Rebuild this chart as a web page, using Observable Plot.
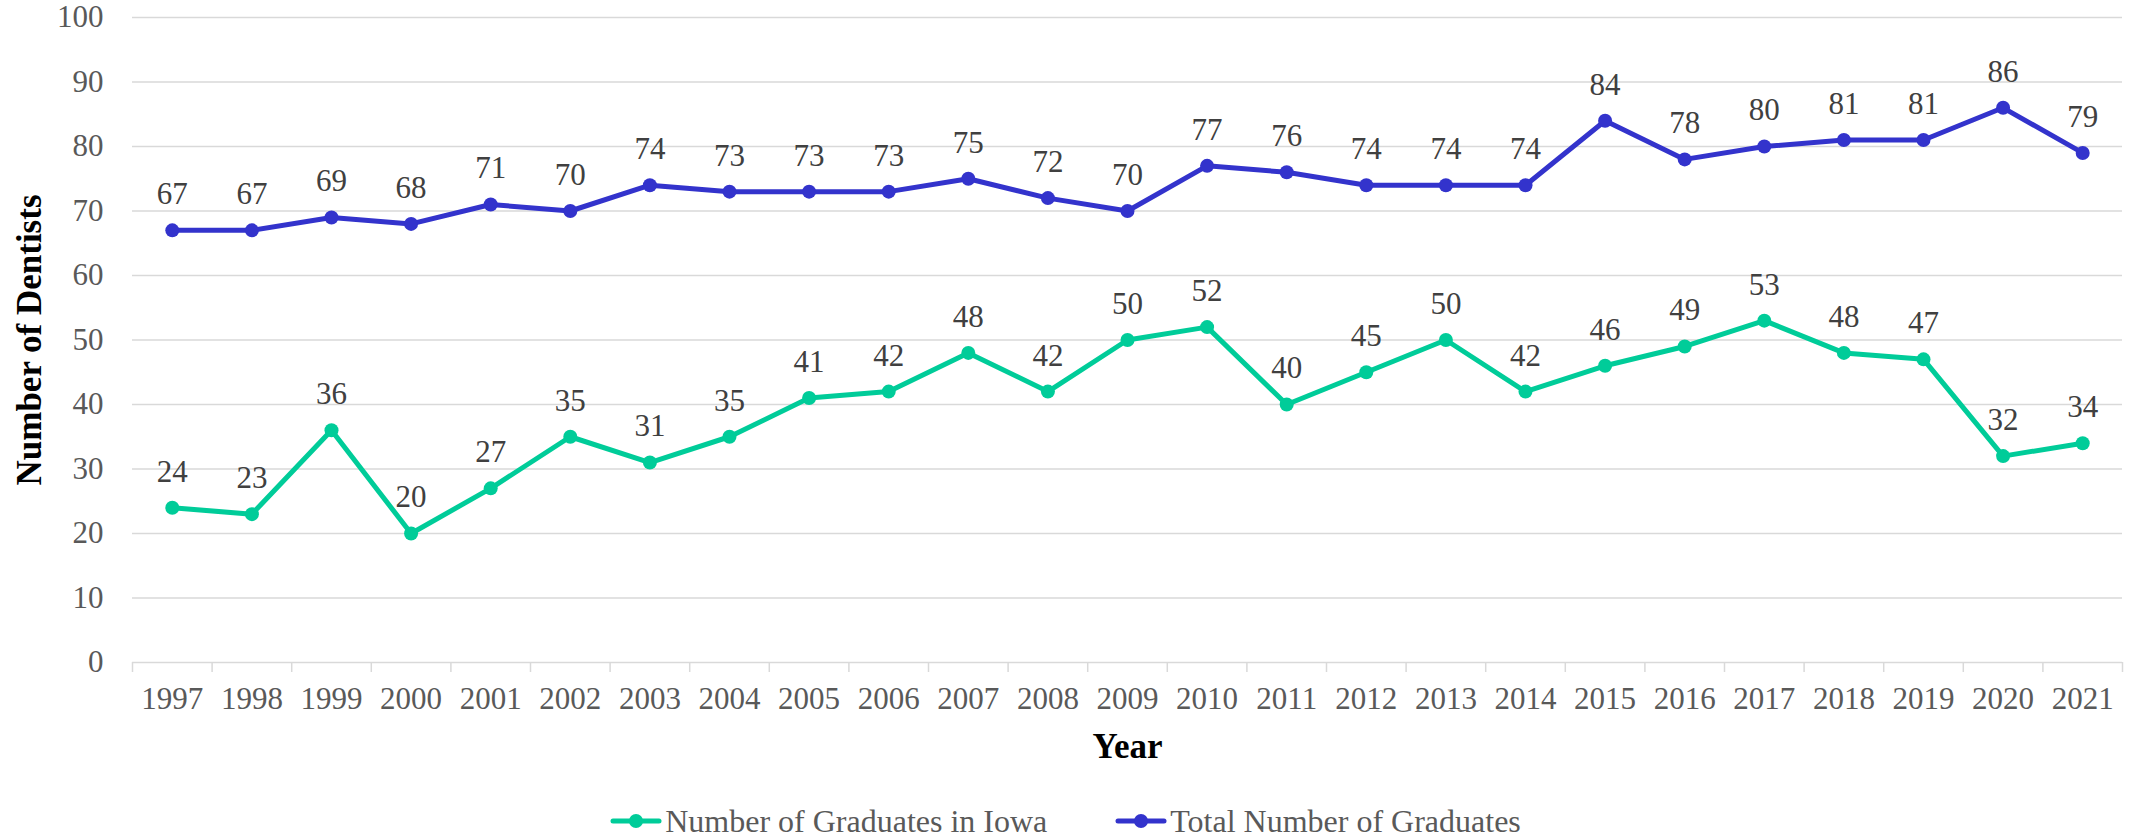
<!DOCTYPE html>
<html>
<head>
<meta charset="utf-8">
<script src="https://cdn.jsdelivr.net/npm/d3@7"></script>
<script src="https://cdn.jsdelivr.net/npm/@observablehq/plot@0.6"></script>
</head>
<body style="margin:0;background:#fff">
<div id="chart"></div>
<script>
const years = [1997,1998,1999,2000,2001,2002,2003,2004,2005,2006,2007,2008,2009,2010,2011,2012,2013,2014,2015,2016,2017,2018,2019,2020,2021];
const iowaGraduates = [24,23,36,20,27,35,31,35,41,42,48,42,50,52,40,45,50,42,46,49,53,48,47,32,34];
const totalGraduates = [67,67,69,68,71,70,74,73,73,73,75,72,70,77,76,74,74,74,84,78,80,81,81,86,79];
const seriesNames = ["Number of Graduates in Iowa", "Total Number of Graduates"];
const seriesColors = ["#00CC99", "#3333CC"];
const yTicks = [0,10,20,30,40,50,60,70,80,90,100];
const yTitle = "Number of Dentists";
const xTitle = "Year";

const rows = [];
years.forEach((yr, i) => {
  rows.push({year: yr, value: iowaGraduates[i], series: seriesNames[0]});
  rows.push({year: yr, value: totalGraduates[i], series: seriesNames[1]});
});
const boundaries = [...years.map(y => y - 0.5), years[years.length - 1] + 0.5];

const serifFont = "Liberation Serif";

const chart = Plot.plot({
  width: 2131,
  height: 782,
  marginLeft: 132,
  marginRight: 9,
  marginTop: 17,
  marginBottom: 120,
  x: {domain: [years[0] - 0.5, years[years.length - 1] + 0.5]},
  y: {domain: [0, 100]},
  color: {domain: seriesNames, range: seriesColors},
  marks: [
    Plot.gridY(yTicks, {stroke: "#d9d9d9", strokeOpacity: 1, strokeWidth: 1.5}),
    Plot.axisY({ticks: yTicks, tickSize: 0, tickPadding: 29, label: null, fill: "#595959", fontSize: 31, fontFamily: serifFont}),
    Plot.axisX({ticks: boundaries, tickSize: 10, tickFormat: () => "", label: null, stroke: "#d9d9d9", strokeWidth: 1.5}),
    Plot.axisX({ticks: years, tickSize: 0, tickPadding: 24, tickFormat: d => String(d), label: null, fill: "#595959", fontSize: 31, fontFamily: serifFont}),
    Plot.line(rows, {x: "year", y: "value", stroke: "series", z: "series", strokeWidth: 5}),
    Plot.dot(rows, {x: "year", y: "value", fill: "series", r: 7}),
    Plot.text(rows, {x: "year", y: "value", text: d => String(d.value), dy: -36, fill: "#404040", fontSize: 31, fontFamily: serifFont}),
    Plot.text([yTitle], {frameAnchor: "left", rotate: -90, dx: -103, textAnchor: "middle", lineAnchor: "middle", fontWeight: "bold", fontSize: 35, fill: "#000", fontFamily: serifFont}),
    Plot.text([xTitle], {frameAnchor: "bottom", dy: 84, textAnchor: "middle", lineAnchor: "middle", fontWeight: "bold", fontSize: 35, fill: "#000", fontFamily: serifFont})
  ]
});
chart.style.display = "block";
document.getElementById("chart").appendChild(chart);

const legend = document.createElement("div");
Object.assign(legend.style, {display: "flex", justifyContent: "center", alignItems: "center", height: "78px", fontSize: "32px", color: "#595959", fontFamily: serifFont});
seriesNames.forEach((name, i) => {
  const item = document.createElement("div");
  Object.assign(item.style, {display: "flex", alignItems: "center"});
  if (i > 0) item.style.marginLeft = "68px";
  const sw = d3.create("svg").attr("width", 52).attr("height", 20).style("margin-right", "3px");
  sw.append("line").attr("x1", 3).attr("y1", 10).attr("x2", 49).attr("y2", 10).attr("stroke", seriesColors[i]).attr("stroke-width", 5).attr("stroke-linecap", "round");
  sw.append("circle").attr("cx", 26).attr("cy", 10).attr("r", 7).attr("fill", seriesColors[i]);
  item.appendChild(sw.node());
  const span = document.createElement("span");
  span.textContent = name;
  item.appendChild(span);
  legend.appendChild(item);
});
document.body.appendChild(legend);
</script>
</body>
</html>
